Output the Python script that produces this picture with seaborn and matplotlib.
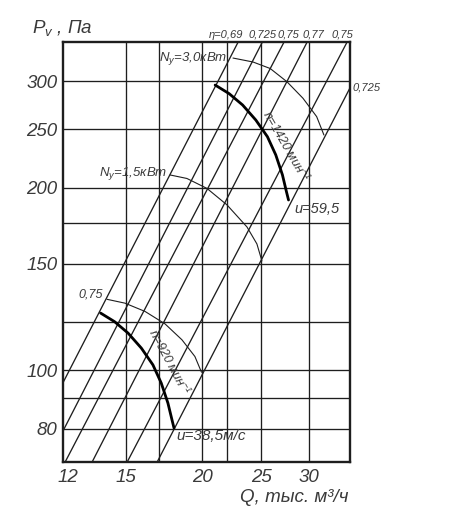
import matplotlib
matplotlib.use("Agg")
import matplotlib.pyplot as plt
from matplotlib.ticker import NullLocator
import pandas as pd
import seaborn as sns

# axes: Q (thous. m3/h) and P (Pa), both log
x_ticks = [12, 15, 20, 25, 30]
x_tick_labels = ["12", "15", "20", "25", "30"]
y_ticks = [80, 100, 150, 200, 250, 300]
y_tick_labels = ["80", "100", "150", "200", "250", "300"]
x_grid = [15, 17, 20, 22, 25, 30]
y_grid = [80, 90, 100, 120, 150, 175, 200, 250, 300]

# efficiency lines, start and end points
eta_labels = ["η=0,69", "0,725", "0,75", "0,77", "0,75", "0,725"]
eta_q0 = [11.8, 11.8, 11.89, 13.17, 15.04, 16.85]
eta_p0 = [95.3, 79.3, 70.4, 70.4, 70.4, 70.4]
eta_q1 = [22.9, 25.1, 27.25, 29.74, 34.6, 35.0]
eta_p1 = [348, 348, 348, 348, 348, 292.6]

# fan curves n=920 and n=1420 rpm
n920_q = [13.61, 14.35, 15.10, 15.88, 16.59, 17.12, 17.56, 17.83, 17.97]
n920_p = [124.2, 120.2, 115.1, 108.7, 102.0, 95.2, 88.2, 82.8, 80.2]
n1420_q = [21.0, 22.14, 23.30, 24.50, 25.60, 26.42, 27.10, 27.51, 27.73]
n1420_p = [295.8, 286.3, 274.2, 258.9, 243.0, 226.8, 210.1, 197.2, 191.0]

# power curves N_y = 0.75, 1.5, 3.0 kW
pw075_q = [13.94, 14.92, 16.10, 17.37, 18.52, 19.45, 19.94]
pw075_p = [130.9, 129.0, 125.0, 119.2, 112.2, 105.3, 99.2]
pw15_q = [17.70, 18.87, 20.36, 21.96, 23.69, 24.60, 25.07]
pw15_p = [210.1, 207.3, 199.6, 187.5, 172.4, 161.6, 151.5]
pw30_q = [22.47, 24.24, 25.87, 27.56, 29.29, 30.85, 31.71]
pw30_p = [327.8, 322.9, 315.0, 299.6, 281.3, 262.3, 244.6]

sns.set_style("white")
plt.rcParams["font.family"] = ["Liberation Sans", "DejaVu Sans"]
plt.rcParams["font.style"] = "italic"
plt.rcParams["mathtext.fontset"] = "custom"
plt.rcParams["mathtext.it"] = "Liberation Sans:italic"
plt.rcParams["mathtext.rm"] = "Liberation Sans:italic"

ink = "#1e1e1e"
txt = "#3a3a3a"

fig = plt.figure(figsize=(4.75, 5.18), dpi=100)
ax = fig.add_axes([0.1326, 0.1075, 0.6042, 0.8108])
ax.set_xscale("log")
ax.set_yscale("log")

for v in x_grid:
    ax.axvline(v, color=ink, lw=0.95, zorder=1)
for v in y_grid:
    ax.axhline(v, color=ink, lw=0.95, zorder=1)

rows = []
for i in range(len(eta_q0)):
    rows.append({"Q": eta_q0[i], "P": eta_p0[i], "line": i})
    rows.append({"Q": eta_q1[i], "P": eta_p1[i], "line": i})
eta_df = pd.DataFrame(rows)
sns.lineplot(data=eta_df, x="Q", y="P", units="line", estimator=None,
             sort=False, color=ink, linewidth=0.95, ax=ax, zorder=2)

for q, p in [(pw075_q, pw075_p), (pw15_q, pw15_p), (pw30_q, pw30_p)]:
    sns.lineplot(x=q, y=p, sort=False, estimator=None, color=ink,
                 linewidth=0.8, ax=ax, zorder=2)
for q, p in [(n920_q, n920_p), (n1420_q, n1420_p)]:
    sns.lineplot(x=q, y=p, sort=False, estimator=None, color="black",
                 linewidth=2.0, ax=ax, zorder=3)

ax.set_xlim(11.8, 35.0)
ax.set_ylim(70.4, 348)
ax.set_xticks(x_ticks)
ax.set_xticklabels(x_tick_labels)
ax.set_yticks(y_ticks)
ax.set_yticklabels(y_tick_labels)
ax.xaxis.set_minor_locator(NullLocator())
ax.yaxis.set_minor_locator(NullLocator())
ax.set_xlabel("")
ax.set_ylabel("")
ax.tick_params(axis="x", length=0, pad=5, labelsize=13.5, labelcolor=txt)
ax.tick_params(axis="y", length=3.5, width=1.1, color=ink, pad=0.5,
               labelsize=13.5, labelcolor=txt)
for s in ax.spines.values():
    s.set_linewidth(1.7)
    s.set_color(ink)
    s.set_zorder(4)

# efficiency labels
eta_offsets = [(4, 2, "right", "bottom"), (0, 2, "center", "bottom"),
               (3, 2, "center", "bottom"), (5, 2, "center", "bottom"),
               (-3, 2, "center", "bottom"), (2, 0, "left", "center")]
for lab, q, p, (dx, dy, ha, va) in zip(eta_labels, eta_q1, eta_p1, eta_offsets):
    ax.annotate(lab, xy=(q, p), xytext=(dx, dy), textcoords="offset points",
                ha=ha, va=va, fontsize=8, color=txt, annotation_clip=False)

# power labels at the start of each arc
ax.annotate("0,75", xy=(pw075_q[0], pw075_p[0]), xytext=(-3, 3.5),
            textcoords="offset points", ha="right", va="center", fontsize=9, color=txt)
ax.annotate("N$_y$=1,5кВт", xy=(pw15_q[0], pw15_p[0]), xytext=(-2, 1),
            textcoords="offset points", ha="right", va="center", fontsize=9.5, color=txt)
ax.annotate("N$_y$=3,0кВт", xy=(pw30_q[0], pw30_p[0]), xytext=(-4, 0),
            textcoords="offset points", ha="right", va="center", fontsize=9.5, color=txt)

# speed labels, set just to the right of the bold curves
ax.text(17.63, 103.0, "n=920 мин$^{-1}$", rotation=-62, rotation_mode="anchor",
        ha="center", va="center", fontsize=9, color=txt)
ax.text(27.47, 234.6, "n=1420 мин$^{-1}$", rotation=-60, rotation_mode="anchor",
        ha="center", va="center", fontsize=9, color=txt)
ax.annotate("u=38,5м/с", xy=(n920_q[-1], n920_p[-1]), xytext=(2, -6),
            textcoords="offset points", ha="left", va="center", fontsize=11, color=txt)
ax.annotate("u=59,5", xy=(n1420_q[-1], n1420_p[-1]), xytext=(4.3, -6.5),
            textcoords="offset points", ha="left", va="center", fontsize=10.5, color=txt)

fig.text(32 / 475, 1 - 28 / 518, "P$_v$ , Па", ha="left", va="center",
         fontsize=13.5, color=txt)
fig.text(348 / 475, 1 - 497 / 518, "Q, тыс. м³/ч", ha="right", va="center",
         fontsize=13.5, color=txt)

fig.savefig("out.png", dpi=100)
